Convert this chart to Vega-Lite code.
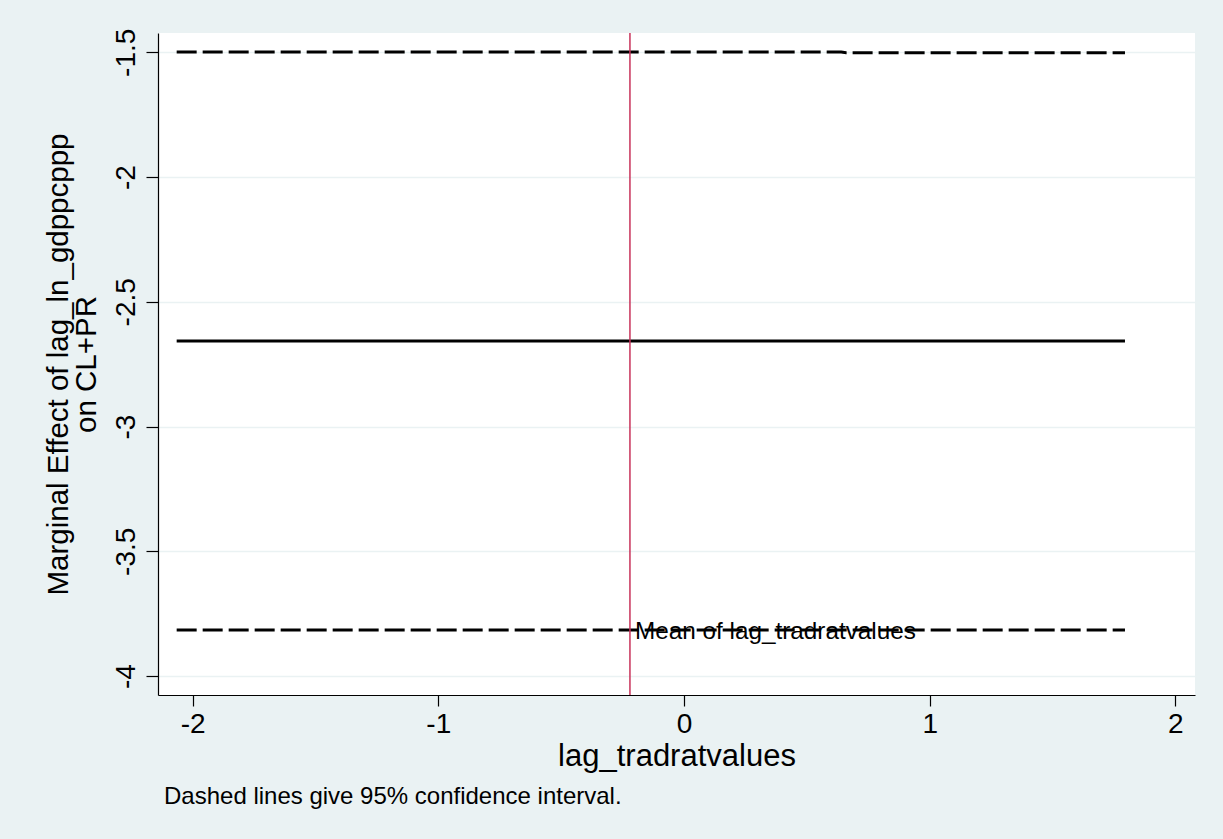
{
  "$schema": "https://vega.github.io/schema/vega-lite/v6.json",
  "width": 1037,
  "height": 662,
  "autosize": {"type": "none"},
  "padding": {"left": 158, "top": 33, "right": 28, "bottom": 144},
  "background": "#EAF2F3",
  "config": {
    "font": "Liberation Sans",
    "view": {"fill": "white", "stroke": null}
  },
  "title": {
    "text": "Dashed lines give 95% confidence interval.",
    "orient": "bottom",
    "anchor": "start",
    "frame": "group",
    "dx": 6,
    "offset": 14,
    "fontSize": 24,
    "fontWeight": "normal",
    "color": "black",
    "font": "Liberation Sans"
  },
  "datasets": {
    "lines": [
      {"series": "estimate", "x": -2.065, "y": -2.657},
      {"series": "estimate", "x": 1.795, "y": -2.657},
      {"series": "upper", "x": -2.065, "y": -1.4985},
      {"series": "upper", "x": 0.64, "y": -1.4985},
      {"series": "upper", "x": 0.66, "y": -1.5015},
      {"series": "upper", "x": 1.795, "y": -1.5015},
      {"series": "lower", "x": -2.065, "y": -3.815},
      {"series": "lower", "x": 1.795, "y": -3.815}
    ],
    "mean": [
      {"x": -0.22, "y": -3.815, "label": "Mean of lag_tradratvalues"}
    ]
  },
  "layer": [
    {
      "data": {"name": "lines"},
      "transform": [{"filter": "datum.series === 'estimate'"}],
      "mark": {"type": "line", "color": "black", "strokeWidth": 3, "clip": true},
      "encoding": {
        "x": {
          "field": "x", "type": "quantitative",
          "scale": {"domain": [-2.141, 2.08], "nice": false, "zero": false},
          "axis": {
            "title": "lag_tradratvalues",
            "values": [-2, -1, 0, 1, 2],
            "labelExpr": "toString(datum.value)",
            "grid": false,
            "domainColor": "black",
            "domainWidth": 1.2,
            "tickColor": "black",
            "tickSize": 11,
            "tickWidth": 1.2,
            "labelFontSize": 28,
            "labelColor": "black",
            "labelPadding": 4,
            "labelFont": "Liberation Sans",
            "titleFontSize": 31,
            "titleFontWeight": "normal",
            "titleColor": "black",
            "titleFont": "Liberation Sans",
            "titlePadding": 3
          }
        },
        "y": {
          "field": "y", "type": "quantitative",
          "scale": {"domain": [-4.076, -1.4226], "nice": false, "zero": false},
          "axis": {
            "title": ["Marginal Effect of lag_ln_gdppcppp", "on CL+PR"],
            "values": [-4, -3.5, -3, -2.5, -2, -1.5],
            "labelExpr": "toString(datum.value)",
            "grid": true,
            "gridColor": "#EAF2F3",
            "gridWidth": 1.5,
            "domainColor": "black",
            "domainWidth": 1.2,
            "tickColor": "black",
            "tickSize": 12,
            "tickWidth": 1.2,
            "labelAngle": -90,
            "labelAlign": "center",
            "labelBaseline": "bottom",
            "labelFontSize": 28,
            "labelColor": "black",
            "labelPadding": 6,
            "labelFont": "Liberation Sans",
            "titleFontSize": 29.5,
            "titleFontWeight": "normal",
            "titleColor": "black",
            "titleFont": "Liberation Sans",
            "titleLineHeight": 28,
            "titlePadding": 11
          }
        }
      }
    },
    {
      "data": {"name": "lines"},
      "transform": [{"filter": "datum.series !== 'estimate'"}],
      "mark": {"type": "line", "color": "black", "strokeWidth": 3, "strokeDash": [20, 6], "clip": true},
      "encoding": {
        "x": {"field": "x", "type": "quantitative"},
        "y": {"field": "y", "type": "quantitative"},
        "detail": {"field": "series"}
      }
    },
    {
      "data": {"name": "mean"},
      "mark": {"type": "rule", "color": "#C8325A", "strokeWidth": 1.5},
      "encoding": {
        "x": {"field": "x", "type": "quantitative"}
      }
    },
    {
      "data": {"name": "mean"},
      "mark": {"type": "text", "align": "left", "baseline": "middle", "dx": 5, "dy": 2, "fontSize": 24.3, "color": "black", "font": "Liberation Sans"},
      "encoding": {
        "x": {"field": "x", "type": "quantitative"},
        "y": {"field": "y", "type": "quantitative"},
        "text": {"field": "label"}
      }
    }
  ]
}
